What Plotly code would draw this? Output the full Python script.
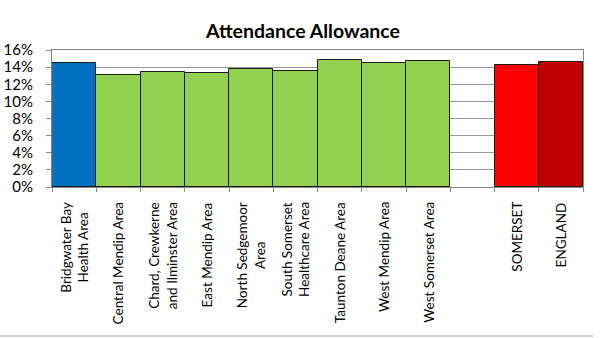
import plotly.graph_objects as go

# Share of population claiming Attendance Allowance by area
areas = [
    "Bridgwater Bay<br>Health Area",
    "Central Mendip Area",
    "Chard, Crewkerne<br>and Ilminster Area",
    "East Mendip Area",
    "North Sedgemoor<br>Area",
    "South Somerset<br>Healthcare Area",
    "Taunton Deane Area",
    "West Mendip Area",
    "West Somerset Area",
    " ",
    "SOMERSET",
    "ENGLAND",
]
rates = [0.1445, 0.1304, 0.134, 0.133, 0.1375, 0.136, 0.1487, 0.1445, 0.147, None, 0.142, 0.146]
colors = ["#0070C0"] + ["#92D050"] * 8 + ["#FFFFFF", "#FF0000", "#C00000"]

W, H = 606, 338
left, right, top, bottom = 52, 583, 50, 187

fig = go.Figure(
    go.Bar(
        x=areas,
        y=rates,
        marker=dict(color=colors, line=dict(color="#1a1a1a", width=1)),
        width=1.0,
    )
)

font = "Lato, Calibri, Arial, sans-serif"

# Category labels drawn as rotated, centre-aligned annotations
label_annotations = [
    dict(
        x=name,
        xref="x",
        y=0,
        yref="paper",
        yshift=-13,
        xanchor="center",
        yanchor="top",
        textangle=-90,
        align="center",
        showarrow=False,
        text=name.strip(),
        font=dict(family=font, size=13.5, color="black"),
    )
    for name in areas
    if name.strip()
]

fig.update_layout(
    width=W,
    height=H,
    margin=dict(l=left, r=W - right, t=top, b=H - bottom, autoexpand=False),
    paper_bgcolor="white",
    plot_bgcolor="white",
    showlegend=False,
    bargap=0,
    title=dict(
        text="<b>Attendance Allowance</b>",
        x=0.5,
        xanchor="center",
        y=1 - 31 / H,
        yanchor="middle",
        font=dict(family=font, size=19.5, color="black"),
    ),
    xaxis=dict(
        type="category",
        automargin=False,
        showticklabels=False,
        ticks="outside",
        tickson="boundaries",
        ticklen=4,
        tickcolor="#888888",
        showline=True,
        linecolor="#888888",
        linewidth=1,
        mirror=True,
        showgrid=False,
    ),
    yaxis=dict(
        automargin=False,
        range=[0, 0.16],
        dtick=0.02,
        tickformat=".0%",
        tickfont=dict(family=font, size=15, color="black"),
        ticks="outside",
        ticklen=5,
        tickcolor="#888888",
        ticklabelstandoff=10,
        showline=True,
        linecolor="#888888",
        linewidth=1,
        mirror=True,
        showgrid=True,
        gridcolor="#999999",
        gridwidth=1,
        zeroline=False,
    ),
    annotations=label_annotations,
    shapes=[
        dict(
            type="line",
            xref="paper",
            yref="paper",
            x0=(0 - left) / (right - left),
            x1=(593 - left) / (right - left),
            y0=-(336 - bottom) / (bottom - top),
            y1=-(336 - bottom) / (bottom - top),
            line=dict(color="#A0A0A0", width=1),
        )
    ],
)

fig.write_html("out.html")
